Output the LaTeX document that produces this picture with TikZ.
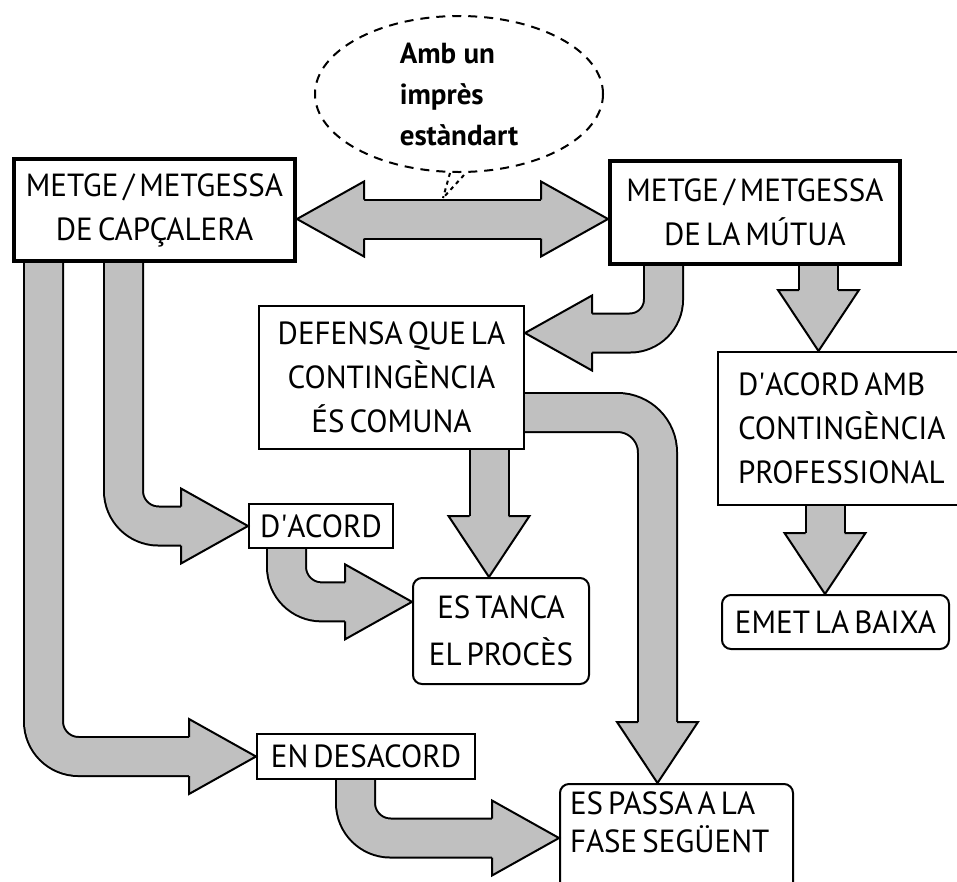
\documentclass[tikz,border=0pt]{standalone}
\usepackage{fontspec}
\usepackage{tikz}
\usetikzlibrary{calc,shapes.geometric}
\newfontfamily\capsfont{PT Sans}[WordSpace=0.6,FakeStretch=0.97]
\newfontfamily\bubblefont{PT Sans Bold}
\definecolor{shade}{RGB}{192,192,192}
\tikzset{
  box/.style={draw, line width=2pt, fill=white, inner sep=0pt, align=center,
    font=\capsfont\fontsize{32}{44}\selectfont},
  thickbox/.style={box, line width=4pt},
  roundbox/.style={box, rounded corners=9pt},
  bubble/.style={ellipse, draw, line width=2pt, dash pattern=on 9pt off 7pt,
    inner sep=0pt, align=left, font=\bubblefont\fontsize{29}{41}\selectfont},
  tail/.style={line width=2pt, dash pattern=on 4pt off 4pt},
  shaft/.style={draw=black, line width=2pt, double=shade, double distance=37pt},
  headline/.style={draw=black, line width=2pt, fill=shade},
  pics/hhead/.style={code={\draw[headline] (-67,-19.5) -- (-67,-37.5) -- (0,0) -- (-67,37.5) -- (-67,19.5);}},
  pics/vhead/.style={code={\draw[headline] (-19.5,61) -- (-40.5,61) -- (0,0) -- (40.5,61) -- (19.5,61);}},
}
\begin{document}
\begin{tikzpicture}[x=1pt,y=1pt,yscale=-1,xscale=1]
\useasboundingbox (0,0) rectangle (957,881);

%Shape: Ellipse
\node[bubble, minimum width=288pt, minimum height=156pt] (bubble) at (459,94) {Amb un\\imprès\\estàndart};

% Text Node
\node[thickbox, minimum width=281pt, minimum height=102pt] (cap) at (154.5,210) {METGE / METGESSA\\DE CAPÇALERA};
% Text Node
\node[thickbox, minimum width=290pt, minimum height=103pt] (mutua) at (755,212.5) {METGE / METGESSA\\DE LA MÚTUA};
% Text Node
\node[box, minimum width=265pt, minimum height=143pt] (defensa) at (391.5,377.5) {DEFENSA QUE LA\\CONTINGÈNCIA\\ÉS COMUNA};
% Text Node
\node[box, anchor=north west, text width=240pt, inner xsep=20pt, align=flush left, minimum height=153pt] (dacordamb) at (717,351) {D\textquotesingle ACORD AMB\\CONTINGÈNCIA\\PROFESSIONAL};
% Text Node
\node[box, minimum width=144pt, minimum height=44pt] (acord) at (321,526) {D\textquotesingle ACORD};
% Text Node
\node[roundbox, minimum width=176pt, minimum height=106pt] (tanca) at (501,631) {ES TANCA\\[3pt]EL PROCÈS};
% Text Node
\node[box, minimum width=218pt, minimum height=45pt] (desacord) at (366,756.5) {EN DESACORD};
% Text Node
\node[roundbox, minimum width=227pt, minimum height=54pt] (baixa) at (835.5,622) {EMET LA BAIXA};
% Text Node
\node[roundbox, anchor=north west, text width=213pt, inner xsep=10pt, inner ysep=8pt, align=flush left, text depth=80pt] (passa) at (559,783) {ES PASSA A LA\\[-6pt]FASE SEGÜENT};

%Shape: Double Arrow
\coordinate (capR) at (cap.east |- 0,219);
\coordinate (mutL) at (mutua.west |- 0,219);
\draw[shaft] ($(capR)+(66,0)$) -- ($(mutL)+(-66,0)$);
\pic[rotate=180] at (capR) {hhead};
\pic at (mutL) {hhead};

%Shape: Bent Arrow
\draw[shaft, rounded corners=35pt] (43.5,0 |- cap.south) -- (43.5,0 |- desacord.west) -- ($(desacord.west)+(-66,0)$);
\pic at (desacord.west) {hhead};
%Shape: Bent Arrow
\draw[shaft, rounded corners=35pt] (123.5,0 |- cap.south) -- (123.5,0 |- acord.west) -- ($(acord.west)+(-66,0)$);
\pic at (acord.west) {hhead};
%Shape: Bent Arrow
\coordinate (tancaL) at ($(tanca.north west)!0.23!(tanca.south west)$);
\draw[shaft, rounded corners=35pt] (286.5,0 |- acord.south) -- (286.5,0 |- tancaL) -- ($(tancaL)+(-66,0)$);
\pic at (tancaL) {hhead};
%Shape: Down Arrow
\coordinate (tancaT) at (489,0 |- tanca.north);
\draw[shaft] (489,0 |- defensa.south) -- ($(tancaT)+(0,-60)$);
\pic at (tancaT) {vhead};
%Shape: Bent Arrow
\coordinate (passaT) at (657.5,0 |- passa.north);
\draw[shaft, rounded corners=40pt] (defensa.east |- 0,412.5) -- (657.5,412.5) -- ($(passaT)+(0,-60)$);
\pic at (passaT) {vhead};
%Shape: Bent Arrow
\coordinate (passaL) at (passa.west |- 0,838);
\draw[shaft, rounded corners=35pt] (355.5,0 |- desacord.south) -- (355.5,0 |- passaL) -- ($(passaL)+(-66,0)$);
\pic at (passaL) {hhead};
%Shape: Bent Arrow
\coordinate (defR) at (defensa.east |- 0,333);
\draw[shaft, rounded corners=33.5pt] (663.5,0 |- mutua.south) -- (663.5,0 |- defR) -- ($(defR)+(66,0)$);
\pic[rotate=180] at (defR) {hhead};
%Shape: Down Arrow
\coordinate (dacT) at (818.5,0 |- dacordamb.north);
\draw[shaft] (818.5,0 |- mutua.south) -- ($(dacT)+(0,-60)$);
\pic at (dacT) {vhead};
%Shape: Down Arrow
\coordinate (baixaT) at (825,0 |- baixa.north);
\draw[shaft] (825,0 |- dacordamb.south) -- ($(baixaT)+(0,-60)$);
\pic at (baixaT) {vhead};

%Straight Lines: callout tail
\coordinate (tailtip) at (443,198);
\draw[tail] ($(bubble.south)+(-9,0)$) -- (tailtip);
\draw[tail] ($(bubble.south)+(5,2)$) -- (tailtip);

\end{tikzpicture}
\end{document}
